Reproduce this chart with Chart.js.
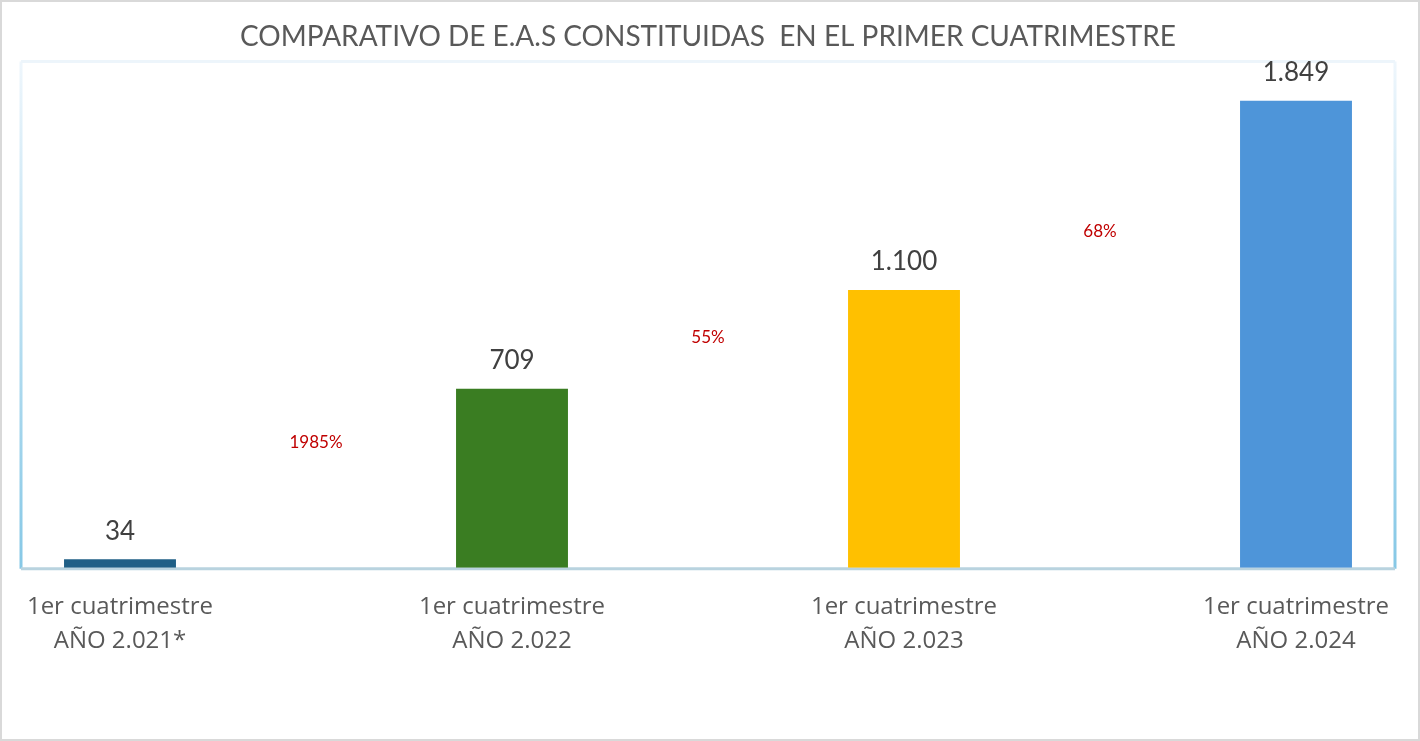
<!DOCTYPE html>
<html>
<head>
<meta charset="utf-8">
<script src="https://cdn.jsdelivr.net/npm/chart.js@4.4.1/dist/chart.umd.min.js"></script>
<style>
  html, body { margin: 0; padding: 0; background: #fff; }
  #wrap { width: 1420px; height: 741px; }
</style>
</head>
<body>
<div id="wrap"><canvas id="graficoEAS" width="1420" height="741"></canvas></div>
<script>
// datos del grafico
var periodos = ['AÑO 2.021*', 'AÑO 2.022', 'AÑO 2.023', 'AÑO 2.024']
var constituidas = [34, 709, 1100, 1849]
var colores = ['#1f5f86', '#3a7d22', '#ffc000', '#4e95d9']
var variaciones = ['1985%', '55%', '68%']
var alturaVariacion = [495, 912, 1330]   // donde va el texto rojo (en unidades del eje)

var fuente = 'Lato, "Open Sans", sans-serif'
var fuenteEjes = '"Open Sans", sans-serif'

// se arma con huecos entre barras para los porcentajes
var etiquetas = []
var valores = []
var coloresBarra = []
for (var i = 0; i < periodos.length; i++) {
  etiquetas.push(['1er cuatrimestre', periodos[i]])
  valores.push(constituidas[i])
  coloresBarra.push(colores[i])
  if (i < periodos.length - 1) {
    etiquetas.push('')
    valores.push(null)
    coloresBarra.push('#ffffff')
  }
}

function formatoMiles(n) {
  return String(n).replace(/\B(?=(\d{3})+(?!\d))/g, '.')
}

var marcoExterior = {
  id: 'marcoExterior',
  beforeDraw: function (chart) {
    var ctx = chart.ctx
    ctx.save()
    ctx.fillStyle = '#ffffff'
    ctx.fillRect(0, 0, chart.width, chart.height)
    ctx.strokeStyle = '#d9d9d9'
    ctx.lineWidth = 2
    ctx.strokeRect(1, 1, chart.width - 2, chart.height - 2)
    ctx.restore()
  }
}

var marcoGrafico = {
  id: 'marcoGrafico',
  beforeDatasetsDraw: function (chart) {
    var a = chart.chartArea
    var ctx = chart.ctx
    ctx.save()
    var grad = ctx.createLinearGradient(0, a.top, 0, a.bottom)
    grad.addColorStop(0, '#eef6fc')
    grad.addColorStop(1, '#86c8e6')
    ctx.lineWidth = 3
    ctx.strokeStyle = grad
    ctx.beginPath()
    ctx.moveTo(a.left - 1, a.top - 1)
    ctx.lineTo(a.left - 1, a.bottom + 1)
    ctx.moveTo(a.right + 1, a.top - 1)
    ctx.lineTo(a.right + 1, a.bottom + 1)
    ctx.stroke()
    ctx.strokeStyle = '#edf5fb'
    ctx.beginPath()
    ctx.moveTo(a.left - 1, a.top - 1)
    ctx.lineTo(a.right + 1, a.top - 1)
    ctx.stroke()
    ctx.strokeStyle = '#b9d3df'
    ctx.beginPath()
    ctx.moveTo(a.left - 1, a.bottom + 1)
    ctx.lineTo(a.right + 1, a.bottom + 1)
    ctx.stroke()
    ctx.restore()
  }
}

var rotulos = {
  id: 'rotulos',
  afterDatasetsDraw: function (chart) {
    var ctx = chart.ctx
    var meta = chart.getDatasetMeta(0)
    var y = chart.scales.y
    ctx.save()
    ctx.textAlign = 'center'
    ctx.textBaseline = 'middle'
    ctx.font = '26px ' + fuente
    ctx.fillStyle = '#404040'
    meta.data.forEach(function (barra, idx) {
      var v = valores[idx]
      if (v === null) return
      ctx.fillText(formatoMiles(v), barra.x, barra.y - 28)
    })
    ctx.font = '17px ' + fuente
    ctx.fillStyle = '#c00000'
    for (var k = 0; k < variaciones.length; k++) {
      var hueco = meta.data[k * 2 + 1]
      ctx.fillText(variaciones[k], hueco.x, y.getPixelForValue(alturaVariacion[k]))
    }
    ctx.restore()
  }
}

var grafico = new Chart(document.getElementById('graficoEAS'), {
  type: 'bar',
  data: {
    labels: etiquetas,
    datasets: [{
      label: 'E.A.S constituidas',
      data: valores,
      backgroundColor: coloresBarra,
      borderWidth: 0,
      categoryPercentage: 1,
      barPercentage: 0.571
    }]
  },
  options: {
    responsive: false,
    devicePixelRatio: 1,
    animation: false,
    layout: {
      padding: { left: 22, right: 26, top: 0, bottom: 61 }
    },
    plugins: {
      legend: { display: false },
      tooltip: { enabled: false },
      title: {
        display: true,
        text: 'COMPARATIVO DE E.A.S CONSTITUIDAS  EN EL PRIMER CUATRIMESTRE',
        color: '#595959',
        font: { family: fuente, size: 28, weight: 'normal' },
        padding: { top: 20, bottom: 9 }
      }
    },
    scales: {
      x: {
        grid: { display: false, drawTicks: false },
        border: { display: false },
        ticks: {
          color: '#595959',
          font: { family: fuenteEjes, size: 24, lineHeight: 1.42 },
          padding: 22,
          autoSkip: false,
          maxRotation: 0
        }
      },
      y: {
        display: false,
        min: 0,
        max: 2000
      }
    }
  },
  plugins: [marcoExterior, marcoGrafico, rotulos]
})
</script>
</body>
</html>
